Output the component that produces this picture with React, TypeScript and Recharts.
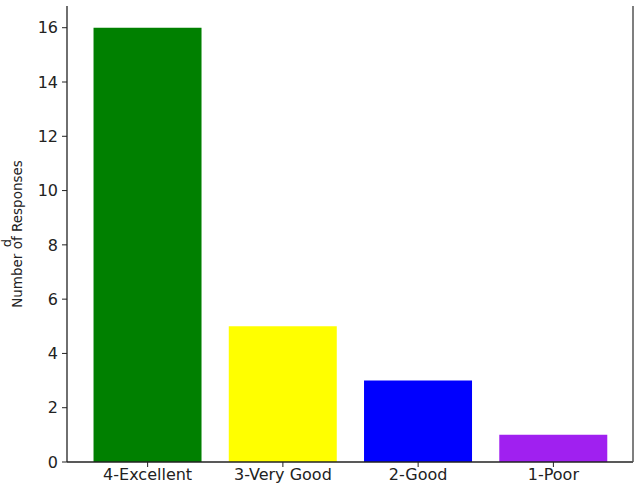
import { BarChart, Bar, XAxis, YAxis, Cell } from "recharts";

const ratings = ["4-Excellent", "3-Very Good", "2-Good", "1-Poor"];
const responses = [16, 5, 3, 1];
const barColors = ["#008000", "#ffff00", "#0000ff", "#a020f0"];
const yTicks = [0, 2, 4, 6, 8, 10, 12, 14, 16];

const data = ratings.map((r, i) => ({ rating: r, count: responses[i] }));

const font = "'DejaVu Sans', sans-serif";
const tickStyle = { fontSize: 16, fill: "#222", fontFamily: font };

export default function App() {
  return (
    <div style={{ position: "absolute", left: 0, top: 0, background: "#fff" }}>
      <BarChart
        width={636}
        height={493}
        data={data}
        margin={{ top: 6, right: 2, left: 0, bottom: 0 }}
        barCategoryGap="10%"
      >
        <XAxis
          dataKey="rating"
          height={31}
          padding={{ left: 13, right: 12 }}
          tick={tickStyle}
          tickSize={5}
          tickMargin={2}
          stroke="#222"
          axisLine={{ stroke: "#222", strokeWidth: 1.3 }}
          tickLine={{ stroke: "#222" }}
        />
        <YAxis
          yAxisId="l"
          width={67}
          domain={[0, 16.8]}
          ticks={yTicks}
          tick={tickStyle}
          tickSize={5}
          tickMargin={4}
          axisLine={{ stroke: "#222", strokeWidth: 1.3 }}
          tickLine={{ stroke: "#222" }}
          label={{
            value: "Number of Responses",
            angle: -90,
            position: "insideLeft",
            offset: 17,
            style: { fontSize: 13.5, fill: "#222", fontFamily: font, textAnchor: "middle" },
          }}
        />
        <YAxis
          yAxisId="r"
          orientation="right"
          width={1}
          tick={false}
          tickLine={false}
          axisLine={{ stroke: "#555", strokeWidth: 1.5 }}
        />
        <Bar yAxisId="l" dataKey="count" isAnimationActive={false}>
          {data.map((_, i) => (
            <Cell key={i} fill={barColors[i]} />
          ))}
        </Bar>
        {/* stray rotated letter seen left of the y label in the original */}
        <text
          x={11}
          y={243}
          transform="rotate(-90 11 243)"
          textAnchor="middle"
          style={{ fontSize: 13, fill: "#222", fontFamily: font }}
        >
          d
        </text>
      </BarChart>
    </div>
  );
}
